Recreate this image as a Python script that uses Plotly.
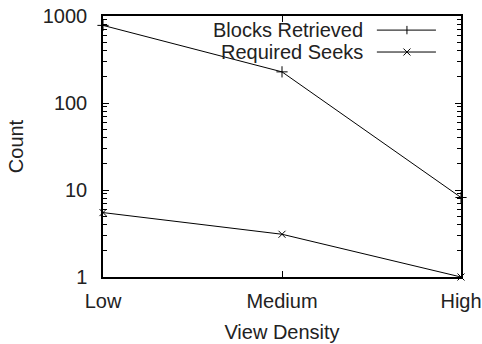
import plotly.graph_objects as go

categories = ["Low", "Medium", "High"]
blocks_retrieved = [780, 228, 8.2]
required_seeks = [5.5, 3.1, 1.0]
series_names = ["Blocks Retrieved", "Required Seeks"]
y_tick_vals = [1, 10, 100, 1000]
y_tick_text = ["1", "10", "100", "1000"]
y_minor_vals = [m * d for d in (1, 10, 100) for m in range(2, 10)]

FONT = "Liberation Sans, Arial, sans-serif"
FS = 20
x_pos = list(range(len(categories)))

fig = go.Figure()
fig.add_trace(go.Scatter(
    x=x_pos, y=blocks_retrieved, mode="lines+markers", name=series_names[0],
    line=dict(color="black", width=1),
    marker=dict(symbol="cross-thin", size=8, line=dict(color="black", width=1)),
    showlegend=False, cliponaxis=False))
fig.add_trace(go.Scatter(
    x=x_pos, y=required_seeks, mode="lines+markers", name=series_names[1],
    line=dict(color="black", width=1),
    marker=dict(symbol="x-thin", size=7, line=dict(color="black", width=1)),
    showlegend=False, cliponaxis=False))

# custom gnuplot-style key (text right, sample on the right)
PW, PH = 358, 261
key_text_x = 0.732
key_line_x0, key_line_x1, key_mark_x = 0.765, 0.930, 0.849
key_rows_y = [0.946, 0.862]
shapes = []
annotations = []
for i, name in enumerate(series_names):
    yy = key_rows_y[i]
    annotations.append(dict(text=name, x=key_text_x, y=yy, xref="paper", yref="paper",
                            xanchor="right", yanchor="middle", showarrow=False,
                            font=dict(family=FONT, size=FS, color="#222")))
    shapes.append(dict(type="line", xref="paper", yref="paper", x0=key_line_x0, x1=key_line_x1,
                       y0=yy, y1=yy, line=dict(color="black", width=1)))
    dx, dy = 3.5 / PW, 3.5 / PH
    if i == 0:
        shapes.append(dict(type="line", xref="paper", yref="paper", x0=key_mark_x, x1=key_mark_x,
                           y0=yy - dy * 1.2, y1=yy + dy * 1.2, line=dict(color="black", width=1)))
    else:
        shapes.append(dict(type="line", xref="paper", yref="paper", x0=key_mark_x - dx, x1=key_mark_x + dx,
                           y0=yy - dy, y1=yy + dy, line=dict(color="black", width=1)))
        shapes.append(dict(type="line", xref="paper", yref="paper", x0=key_mark_x - dx, x1=key_mark_x + dx,
                           y0=yy + dy, y1=yy - dy, line=dict(color="black", width=1)))

fig.update_layout(
    width=482, height=344,
    margin=dict(l=103, r=21, t=16, b=67, autoexpand=False),
    paper_bgcolor="white", plot_bgcolor="white",
    font=dict(family=FONT, size=FS, color="#222"),
    shapes=shapes, annotations=annotations,
    xaxis=dict(
        range=[0, 2], tickvals=x_pos, ticktext=categories, automargin=False,
        ticks="inside", ticklen=6, tickcolor="black",
        showline=True, linecolor="black", linewidth=1.5, mirror="allticks",
        showgrid=False, zeroline=False, ticklabelstandoff=5,
        title=dict(text="View Density", standoff=14, font=dict(size=FS)),
    ),
    yaxis=dict(
        type="log", range=[0, 3], tickvals=y_tick_vals, ticktext=y_tick_text, automargin=False,
        ticks="inside", ticklen=6, tickcolor="black",
        showline=True, linecolor="black", linewidth=1.5, mirror="allticks",
        showgrid=False, zeroline=False, ticklabelstandoff=10,
        minor=dict(ticks="inside", ticklen=4, tickcolor="black", tickmode="array",
                   tickvals=y_minor_vals, showgrid=False),
        title=dict(text="Count", standoff=14, font=dict(size=FS)),
    ),
)

fig.write_html("out.html")
